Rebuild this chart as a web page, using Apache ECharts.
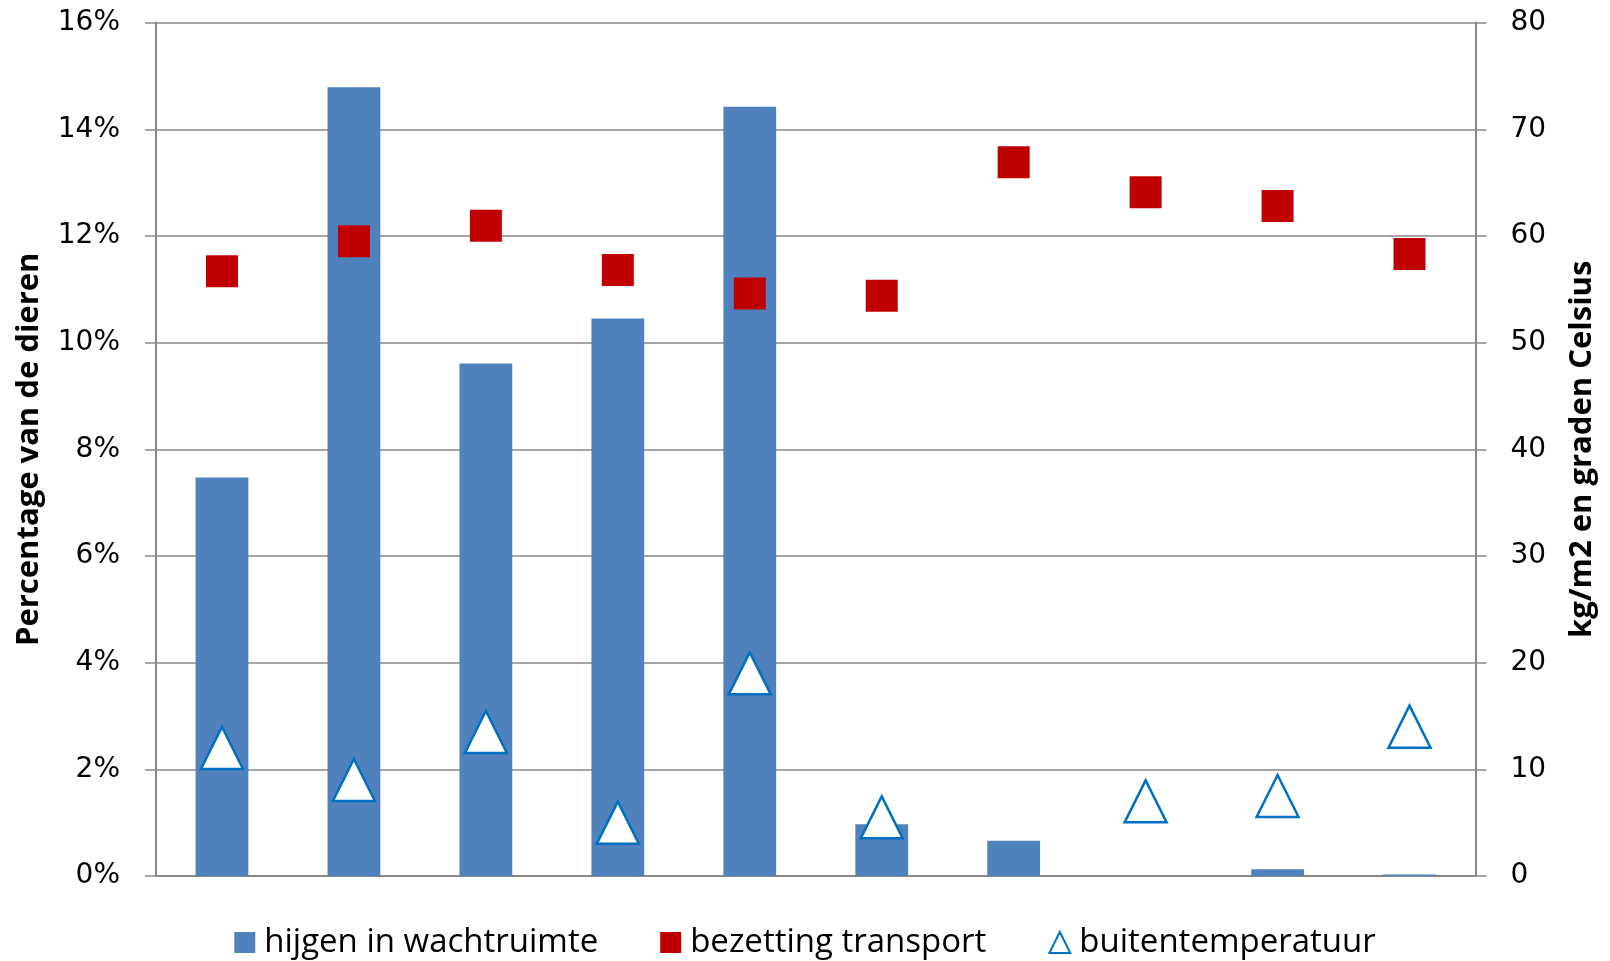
<!DOCTYPE html>
<html>
<head>
<meta charset="utf-8">
<script src="https://cdn.jsdelivr.net/npm/echarts@6/dist/echarts.min.js"></script>
<style>
html,body{margin:0;padding:0;background:#fff;}
#chart{width:1610px;height:961px;}
</style>
</head>
<body>
<div id="chart"></div>
<script>
const categories = ['1','2','3','4','5','6','7','8','9','10'];
const hijgen = [7.47, 14.79, 9.61, 10.45, 14.42, 0.97, 0.66, 0, 0.125, 0.03];
const bezetting = [56.7, 59.5, 60.95, 56.8, 54.6, 54.4, 66.9, 64.1, 62.8, 58.3];
const buitentemp = [12.0, 9.0, 13.5, 5.0, 19.0, 5.5, null, 7.0, 7.5, 14.0];
const leftTicks = { min: 0, max: 16, interval: 2 };
const rightTicks = { min: 0, max: 80, interval: 10 };
const seriesNames = ['hijgen in wachtruimte', 'bezetting transport', 'buitentemperatuur'];

const gridGray = '#898989';
const chart = echarts.init(document.getElementById('chart'));
chart.setOption({
  animation: false,
  backgroundColor: '#fff',
  grid: { left: 156, right: 134.5, top: 22.6, bottom: 85, containLabel: false },
  legend: {
    left: 'center',
    top: 921,
    itemGap: 62,
    itemWidth: 21,
    itemHeight: 21,
    textStyle: { fontFamily: 'Open Sans', fontSize: 33, color: '#000', padding: [0, 0, 0, 4] },
    data: [
      { name: seriesNames[0], icon: 'rect' },
      { name: seriesNames[1], icon: 'rect' },
      { name: seriesNames[2], icon: 'triangle', itemStyle: { color: '#fff', borderColor: '#0070C0', borderWidth: 2 } }
    ]
  },
  xAxis: {
    type: 'category',
    data: categories,
    axisLine: { show: true, lineStyle: { color: gridGray, width: 2 } },
    axisTick: { show: false },
    axisLabel: { show: false },
    splitLine: { show: false }
  },
  yAxis: [
    {
      type: 'value',
      min: leftTicks.min, max: leftTicks.max, interval: leftTicks.interval,
      name: 'Percentage van de dieren',
      nameLocation: 'middle',
      nameRotate: 90,
      nameGap: 111,
      nameTextStyle: { fontFamily: 'Open Sans', fontWeight: 'bold', fontSize: 31, color: '#000' },
      axisLine: { show: true, lineStyle: { color: gridGray, width: 2 } },
      axisTick: { show: true, inside: false, length: 11, lineStyle: { color: gridGray, width: 1.5 } },
      axisLabel: { formatter: '{value}%', margin: 36, fontFamily: 'DejaVu Sans', fontSize: 28, color: '#000' },
      splitLine: { show: true, lineStyle: { color: gridGray, width: 1.5 } }
    },
    {
      type: 'value',
      position: 'right',
      min: rightTicks.min, max: rightTicks.max, interval: rightTicks.interval,
      name: 'kg/m2 en graden Celsius',
      nameLocation: 'middle',
      nameRotate: 90,
      nameGap: 91,
      nameTextStyle: { fontFamily: 'Open Sans', fontWeight: 'bold', fontSize: 31, color: '#000' },
      axisLine: { show: true, lineStyle: { color: gridGray, width: 2 } },
      axisTick: { show: true, inside: false, length: 11, lineStyle: { color: gridGray, width: 1.5 } },
      axisLabel: { margin: 35, fontFamily: 'DejaVu Sans', fontSize: 28, color: '#000' },
      splitLine: { show: false }
    }
  ],
  series: [
    {
      name: seriesNames[0],
      type: 'bar',
      yAxisIndex: 0,
      data: hijgen,
      barWidth: '40%',
      itemStyle: { color: '#4F81BD' }
    },
    {
      name: seriesNames[1],
      type: 'scatter',
      yAxisIndex: 1,
      data: bezetting,
      symbol: 'rect',
      symbolSize: 32,
      itemStyle: { color: '#C00000', opacity: 1 }
    },
    {
      name: seriesNames[2],
      type: 'scatter',
      yAxisIndex: 1,
      data: buitentemp,
      symbol: 'triangle',
      symbolSize: 42,
      itemStyle: { color: '#fff', borderColor: '#0070C0', borderWidth: 2.5, opacity: 1 }
    }
  ]
});
</script>
</body>
</html>
